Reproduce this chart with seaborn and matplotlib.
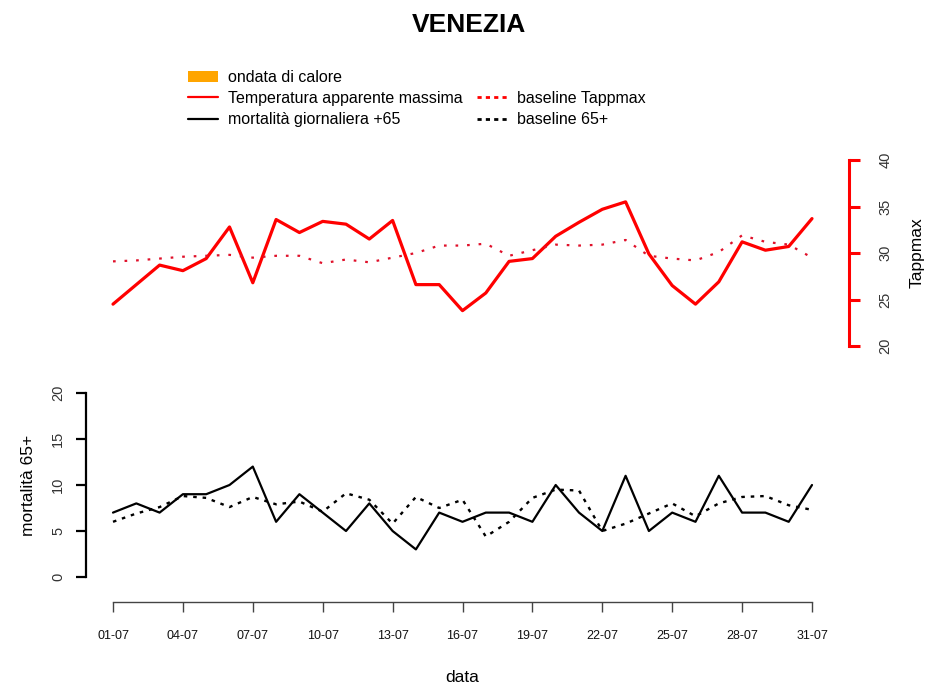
import pandas as pd
import matplotlib
matplotlib.use("Agg")
import matplotlib.pyplot as plt
from matplotlib.lines import Line2D
from matplotlib.patches import Patch
import seaborn as sns

# July, one value per day
days = list(range(31))
date_labels = ["01-07", "04-07", "07-07", "10-07", "13-07", "16-07",
               "19-07", "22-07", "25-07", "28-07", "31-07"]

tappmax = [24.5, 26.6, 28.7, 28.1, 29.4, 32.8, 26.8, 33.6, 32.2, 33.4, 33.1,
           31.5, 33.5, 26.6, 26.6, 23.8, 25.7, 29.1, 29.4, 31.8, 33.3, 34.7,
           35.5, 29.9, 26.5, 24.5, 26.9, 31.2, 30.3, 30.7, 33.7]
baseline_tappmax = [29.1, 29.2, 29.4, 29.6, 29.7, 29.8, 29.5, 29.7, 29.7, 28.9,
                    29.3, 29.0, 29.5, 30.0, 30.8, 30.8, 31.0, 29.7, 30.3, 30.9,
                    30.8, 30.9, 31.4, 29.7, 29.4, 29.2, 30.1, 31.9, 31.2, 30.9, 29.5]
mortality = [7, 8, 7, 9, 9, 10, 12, 6, 9, 7, 5, 8, 5, 3, 7, 6, 7, 7, 6, 10,
             7, 5, 11, 5, 7, 6, 11, 7, 7, 6, 10]
baseline_65 = [6.0, 6.9, 7.6, 8.8, 8.6, 7.6, 8.7, 7.9, 8.2, 7.1, 9.1, 8.4, 5.8,
               8.7, 7.5, 8.4, 4.4, 6.0, 8.6, 9.5, 9.4, 5.0, 5.8, 6.9, 8.0, 6.6,
               8.0, 8.7, 8.8, 7.8, 7.3]

df = pd.DataFrame({"day": days, "tappmax": tappmax, "base_t": baseline_tappmax,
                   "mort": mortality, "base_m": baseline_65})

sns.set_theme(style="white")
plt.rcParams["font.family"] = ["Liberation Sans", "DejaVu Sans"]
plt.rcParams["text.color"] = "black"
plt.rcParams["axes.labelcolor"] = "black"

W, H = 938, 688
fig = plt.figure(figsize=(W / 100, H / 100), dpi=100)


def px_box(left, top, right, bottom):
    return [left / W, 1 - bottom / H, (right - left) / W, (bottom - top) / H]


xlim = (-27 / 23.3, 30 + 37 / 23.3)

# top panel: apparent temperature, axis on the right
ax_t = fig.add_axes(px_box(86, 160, 849, 346))
sns.lineplot(data=df, x="day", y="tappmax", ax=ax_t, color="red", lw=2.3)
sns.lineplot(data=df, x="day", y="base_t", ax=ax_t, color="#e0102a", lw=1.6,
             linestyle=(0, (1.2, 4)))
ax_t.set_xlim(xlim)
ax_t.set_ylim(20, 40)
ax_t.set_xticks([])
for s in ["top", "left", "bottom"]:
    ax_t.spines[s].set_visible(False)
ax_t.spines["right"].set_color("red")
ax_t.spines["right"].set_linewidth(2.2)
ax_t.yaxis.tick_right()
ax_t.set_yticks([20, 25, 30, 35, 40])
ax_t.tick_params(axis="y", colors="red", length=8, width=2.2, pad=13,
                 labelsize=10.5, labelcolor="#333333", right=True, left=False)
for lab in ax_t.get_yticklabels():
    lab.set_rotation(90)
    lab.set_va("center")
ax_t.set_xlabel("")
ax_t.set_ylabel("Tappmax", fontsize=12.5, rotation=90)
ax_t.yaxis.set_label_position("right")
ax_t.yaxis.label.set_va("center")
ax_t.yaxis.set_label_coords((917 - 86) / 763, 0.5)
ax_t.patch.set_alpha(0)

# bottom panel: daily mortality 65+
ax_m = fig.add_axes(px_box(86, 393, 849, 577))
sns.lineplot(data=df, x="day", y="mort", ax=ax_m, color="black", lw=1.6)
sns.lineplot(data=df, x="day", y="base_m", ax=ax_m, color="black", lw=1.7,
             linestyle=(0, (1.5, 2.5)))
ax_m.set_xlim(xlim)
ax_m.set_ylim(0, 20)
ax_m.spines["top"].set_visible(False)
ax_m.spines["right"].set_visible(False)
ax_m.spines["left"].set_color("black")
ax_m.spines["left"].set_linewidth(1.6)
ax_m.spines["bottom"].set_position(("outward", 18))
ax_m.spines["bottom"].set_bounds(0, 30)
ax_m.spines["bottom"].set_color("#444444")
ax_m.spines["bottom"].set_linewidth(1.0)
ax_m.set_xticks(list(range(0, 31, 3)))
ax_m.set_xticklabels(date_labels)
ax_m.set_yticks([0, 5, 10, 15, 20])
ax_m.tick_params(axis="x", bottom=True, length=7, width=1.0, color="#444444",
                 pad=13, labelsize=9, labelcolor="#111111")
ax_m.tick_params(axis="y", left=True, length=7, width=1.6, color="black",
                 pad=8, labelsize=10.5, labelcolor="#333333")
for lab in ax_m.get_yticklabels():
    lab.set_rotation(90)
    lab.set_va("center")
ax_m.set_xlabel("data", fontsize=12.5)
ax_m.xaxis.label.set_va("center")
ax_m.xaxis.set_label_coords((462.5 - 86) / 763, (577 - 678) / 184)
ax_m.set_ylabel("mortalità 65+", fontsize=12.5)
ax_m.yaxis.label.set_va("center")
ax_m.yaxis.set_label_coords((28 - 86) / 763, 0.5)
ax_m.patch.set_alpha(0)

fig.suptitle("VENEZIA", y=1 - 25 / H, va="center", fontsize=19,
             fontweight="bold", color="black")

handles = [
    Patch(facecolor="orange", edgecolor="none"),
    Line2D([], [], color="red", lw=1.6),
    Line2D([], [], color="black", lw=1.6),
    Line2D([], [], color="none"),
    Line2D([], [], color="red", lw=2, linestyle=(0, (1.5, 1.5))),
    Line2D([], [], color="black", lw=2, linestyle=(0, (1.5, 1.5))),
]
labels = ["ondata di calore", "Temperatura apparente massima",
          "mortalità giornaliera +65", "", "baseline Tappmax", "baseline 65+"]
fig.legend(handles, labels, ncol=2, loc="upper left",
           bbox_to_anchor=(188 / W, 1 - 70 / H), frameon=False,
           borderpad=0, borderaxespad=0, fontsize=11.5, labelspacing=0.38,
           handlelength=1.9, handletextpad=0.6, columnspacing=0.9)

fig.savefig("out.png", dpi=100)
